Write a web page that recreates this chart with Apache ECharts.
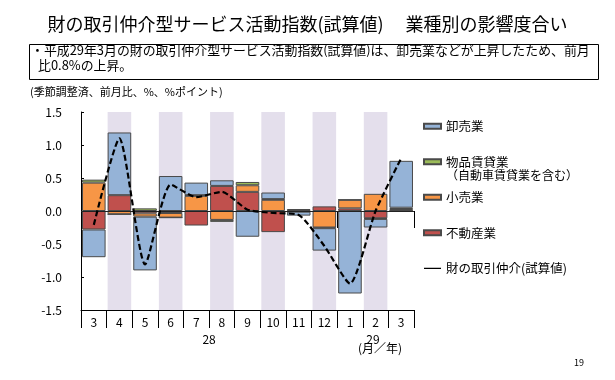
<!DOCTYPE html>
<html>
<head>
<meta charset="utf-8">
<script src="https://cdn.jsdelivr.net/npm/echarts@6/dist/echarts.min.js"></script>
<style>
html,body{margin:0;padding:0;background:#fff;}
#c{width:615px;height:380px;}
</style>
</head>
<body>
<div id="c"></div>
<script>
// ---- data ----
const months = ['3','4','5','6','7','8','9','10','11','12','1','2','3'];
const yearGroups = ['28','29'];
const yTicks = [-1.5,-1.0,-0.5,0.0,0.5,1.0,1.5];
const realEstate = [-0.28, 0.24, -0.035, -0.03, -0.22, 0.38, 0.29, -0.32, -0.01, 0.07, 0.04, -0.11, 0.00];
const retail     = [ 0.43,-0.05, -0.05, -0.07,  0.23,-0.135, 0.10, 0.17, 0.01,-0.25, 0.13, 0.26, 0.03];
const rental     = [ 0.045, 0.00, 0.04, 0.00,  0.01,-0.03, 0.05, 0.01, 0.02,-0.01, 0.00,-0.01, 0.02];
const wholesale  = [-0.42, 0.95, -0.815, 0.53, 0.19, 0.085,-0.39, 0.10,-0.06,-0.34,-1.25,-0.13, 0.71];
const total      = [-0.21, 1.10, -0.81, 0.40,  0.21, 0.29, 0.02,-0.03,-0.06,-0.53,-1.10, 0.00, 0.80];
const shaded     = [0,1,0,1,0,1,0,1,0,1,0,1,0];

const FONT = '"Noto Sans CJK JP", "Noto Sans", sans-serif';
const yMin = yTicks[0], yMax = yTicks[yTicks.length-1];

const chart = echarts.init(document.getElementById('c'), null, {renderer:'canvas'});
const border = {borderColor:'#4a4a4a', borderWidth:1};

const barCommon = {type:'bar', stack:'a', barCategoryGap:'8%', barGap:'-100%', z:2};
const option = {
  animation:false,
  textStyle:{fontFamily:FONT},
  title:{text:'財の取引仲介型サービス活動指数(試算値)\u3000 業種別の影響度合い', left:'center', top:10,
    textStyle:{fontFamily:FONT, fontSize:18, fontWeight:'normal', color:'#000'}},
  grid:{left:81, right:201, top:112, bottom:70, containLabel:false},
  legend:{orient:'vertical', left:418, top:115, itemGap:23, itemWidth:17, itemHeight:5,
    textStyle:{fontFamily:FONT, fontSize:12.5, color:'#000'},
    data:[
      {name:'卸売業', icon:'rect'},
      {name:'物品賃貸業', icon:'rect'},
      {name:'小売業', icon:'rect'},
      {name:'不動産業', icon:'rect'},
      {name:'財の取引仲介(試算値)', icon:'path://M0,0L0,0ZM0,2L17,2L17,3.2L0,3.2ZM17,5L17,5Z', itemStyle:{color:'#000', borderWidth:0}}
    ]},
  xAxis:[{
    type:'category', data:months, position:'bottom',
    axisLine:{onZero:false, lineStyle:{color:'#000', width:1}},
    axisTick:{show:true, length:18, lineStyle:{color:'#000'}},
    axisLabel:{color:'#000', fontSize:12, margin:6, fontFamily:FONT}
  },{
    type:'value', position:'bottom', offset:18, min:0, max:months.length,
    axisLine:{show:false}, splitLine:{show:false},
    axisTick:{show:true, length:17, customValues:[0,10,months.length], lineStyle:{color:'#000'}},
    axisLabel:{show:true, customValues:[5,11.4], margin:5, fontSize:12, color:'#000', fontFamily:FONT,
      formatter:function(v){return v<10?yearGroups[0]:yearGroups[1];}}
  }],
  yAxis:{type:'value', min:yMin, max:yMax, interval:0.5,
    axisLine:{show:true, lineStyle:{color:'#000'}},
    axisTick:{show:true, inside:true, length:3, lineStyle:{color:'#000'}},
    splitLine:{show:false},
    axisLabel:{color:'#000', fontSize:12, margin:19, fontFamily:FONT,
      formatter:function(v){return v.toFixed(1);}}
  },
  series:[
    {name:'shadePos', type:'bar', stack:'bg', barCategoryGap:'8%', barGap:'-100%', z:1, silent:true,
      itemStyle:{color:'#E4DFEC'}, data:shaded.map(s=>s?yMax:'-')},
    {name:'shadeNeg', type:'bar', stack:'bg', z:1, silent:true,
      itemStyle:{color:'#E4DFEC'}, data:shaded.map(s=>s?yMin:'-')},
    Object.assign({name:'不動産業', itemStyle:Object.assign({color:'#C0504D'},border), data:realEstate}, barCommon),
    Object.assign({name:'小売業', itemStyle:Object.assign({color:'#F79646'},border), data:retail}, barCommon),
    Object.assign({name:'物品賃貸業', itemStyle:Object.assign({color:'#9BBB59'},border), data:rental}, barCommon),
    Object.assign({name:'卸売業', itemStyle:Object.assign({color:'#95B3D7'},border), data:wholesale}, barCommon),
    {name:'財の取引仲介(試算値)', type:'line', data:total, symbol:'none', smooth:0.2, z:5,
      itemStyle:{color:'#000'},
      lineStyle:{color:'#000', width:2.2, type:[6,3]},
      markLine:{silent:true, symbol:'none', label:{show:false}, z:4,
        lineStyle:{color:'#222', width:1, type:'solid'}, data:[{yAxis:0}]}}
  ],
  graphic:[
    {type:'rect', left:27, top:42, shape:{width:569, height:35}, style:{fill:'none', stroke:'#000', lineWidth:1}},
    {type:'text', left:31, top:44, style:{text:'・平成29年3月の財の取引仲介型サービス活動指数(試算値)は、卸売業などが上昇したため、前月', font:'12.9px '+FONT, fill:'#000'}},
    {type:'text', left:38, top:59, style:{text:'比0.8%の上昇。', font:'12.9px '+FONT, fill:'#000'}},
    {type:'text', left:30, top:86, style:{text:'(季節調整済、前月比、%、%ポイント)', font:'11px '+FONT, fill:'#000'}},
    {type:'text', left:446, top:169, style:{text:'（自動車賃貸業を含む）', font:'12px '+FONT, fill:'#000'}},
    {type:'text', left:358, top:342, style:{text:'(月／年)', font:'12px '+FONT, fill:'#000'}},
    {type:'text', left:574, top:358, style:{text:'19', font:'9px '+FONT, fill:'#000'}}
  ]
};
chart.setOption(option);
</script>
</body>
</html>
